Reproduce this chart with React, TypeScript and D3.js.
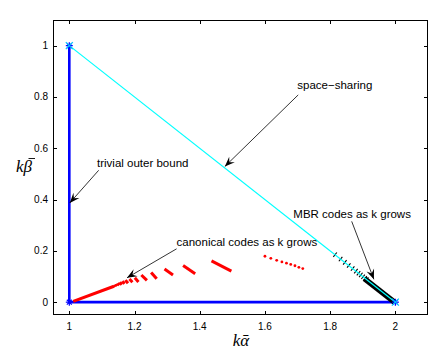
// Achievable region plot: outer bound, space-sharing line, canonical and MBR codes
import React from 'react';
import * as d3 from 'd3';

const WIDTH = 436;
const HEIGHT = 350;
const BOX = { left: 53, right: 428, top: 20, bottom: 315 };

const X_DOMAIN = [0.95, 2.1];
const Y_DOMAIN = [-0.05, 1.1];
const xTicks = [1, 1.2, 1.4, 1.6, 1.8, 2];
const yTicks = [0, 0.2, 0.4, 0.6, 0.8, 1];

// trivial outer bound (blue) and space-sharing line (cyan)
const boundX = [1, 1, 2];
const boundY = [1, 0, 0];
const shareX = [1, 2];
const shareY = [1, 0];

// canonical codes, one short run per k: [x0, y0, x1, y1]
const canonRuns = [
  [1.012, 0.003, 1.137, 0.062],
  [1.138, 0.068, 1.142, 0.060],
  [1.143, 0.071, 1.147, 0.063],
  [1.1485, 0.074, 1.1535, 0.066],
  [1.155, 0.078, 1.161, 0.068],
  [1.1625, 0.082, 1.1695, 0.072],
  [1.172, 0.086, 1.18, 0.074],
  [1.1845, 0.09, 1.1935, 0.078],
  [1.201, 0.095, 1.212, 0.079],
  [1.221, 0.106, 1.238, 0.085],
  [1.251, 0.116, 1.268, 0.091],
  [1.292, 0.129, 1.318, 0.106],
  [1.349, 0.143, 1.386, 0.111],
  [1.436, 0.161, 1.497, 0.121],
];
// sparse run (smallest k), drawn point by point
const canonDotX = [1.6, 1.618, 1.636, 1.652, 1.666, 1.679, 1.692, 1.704, 1.716];
const canonDotY = [0.179, 0.171, 0.163, 0.157, 0.152, 0.147, 0.142, 0.136, 0.131];

// MBR codes: points on the space-sharing line
const mbrX = [1.815, 1.832, 1.845, 1.857, 1.869, 1.879, 1.887, 1.894, 1.901, 1.907, 1.912];
const mbrY = [0.185, 0.168, 0.155, 0.143, 0.131, 0.121, 0.113, 0.106, 0.099, 0.093, 0.088];
const mbrDense = [1.905, 0.092, 1.997, 0.0];

// annotations
const noteLabels = ['space\u2212sharing', 'trivial outer bound', 'canonical codes as k grows', 'MBR codes as k grows'];
const noteTextX = [1.699, 1.085, 1.329, 1.687];
const noteTextY = [0.83, 0.526, 0.219, 0.328];
const noteTailX = [1.702, 1.09, 1.329, 1.866];
const noteTailY = [0.808, 0.514, 0.208, 0.315];
const noteTipX = [1.477, 1.0015, 1.177, 1.934];
const noteTipY = [0.529, 0.387, 0.095, 0.089];

const SANS = '"Liberation Sans", Arial, Helvetica, sans-serif';
const SERIF = '"Liberation Serif", "Times New Roman", serif';

function arrowHead(x0: number, y0: number, x1: number, y1: number) {
  const a = Math.atan2(y1 - y0, x1 - x0);
  const L = 10;
  const Wd = 4;
  const ux = Math.cos(a), uy = Math.sin(a);
  const px = -uy, py = ux;
  const p = (s: number, t: number) => `${x1 - ux * s + px * t},${y1 - uy * s + py * t}`;
  return `M${p(0, 0)}L${p(L, Wd)}L${p(L * 0.62, 0)}L${p(L, -Wd)}Z`;
}

export default function App() {
  const x = d3.scaleLinear().domain(X_DOMAIN).range([BOX.left, BOX.right]);
  const y = d3.scaleLinear().domain(Y_DOMAIN).range([BOX.bottom, BOX.top]);

  const line = d3.line<number>().x((_, i) => x(boundX[i])).y((_, i) => y(boundY[i]));
  const shareLine = d3.line<number>().x((_, i) => x(shareX[i])).y((_, i) => y(shareY[i]));

  const star = (cx: number, cy: number, color: string, key: string) => {
    const s = 3.5;
    return (
      <g key={key} stroke={color} strokeWidth={1.2}>
        <line x1={cx - s} y1={cy} x2={cx + s} y2={cy} />
        <line x1={cx} y1={cy - s} x2={cx} y2={cy + s} />
        <line x1={cx - s * 0.7} y1={cy - s * 0.7} x2={cx + s * 0.7} y2={cy + s * 0.7} />
        <line x1={cx - s * 0.7} y1={cy + s * 0.7} x2={cx + s * 0.7} y2={cy - s * 0.7} />
      </g>
    );
  };
  const cross = (cx: number, cy: number, color: string, key: string) => {
    const s = 3.5;
    return (
      <g key={key} stroke={color} strokeWidth={1.2}>
        <line x1={cx - s} y1={cy - s} x2={cx + s} y2={cy + s} />
        <line x1={cx - s} y1={cy + s} x2={cx + s} y2={cy - s} />
      </g>
    );
  };

  // perpendicular direction to the space-sharing line, in pixels
  const dxp = x(2) - x(1), dyp = y(0) - y(1);
  const len = Math.hypot(dxp, dyp);
  const nx = dyp / len, ny = -dxp / len;

  return (
    <svg width={WIDTH} height={HEIGHT} style={{ position: 'absolute', left: 0, top: 0, background: '#fff' }}>
      <rect x={0} y={0} width={WIDTH} height={HEIGHT} fill="#fff" />

      {/* outer bound */}
      <path d={line(boundX) || ''} fill="none" stroke="#0000ff" strokeWidth={2.6} />

      {/* canonical codes */}
      <g stroke="#ff0000" strokeWidth={3}>
        {canonRuns.map((r, i) => (
          <line key={i} x1={x(r[0])} y1={y(r[1])} x2={x(r[2])} y2={y(r[3])} />
        ))}
      </g>
      {canonDotX.map((v, i) => (
        <circle key={i} cx={x(v)} cy={y(canonDotY[i])} r={1.4} fill="#ff0000" />
      ))}

      {/* MBR codes */}
      <line x1={x(mbrDense[0])} y1={y(mbrDense[1])} x2={x(mbrDense[2])} y2={y(mbrDense[3])}
        stroke="#000" strokeWidth={5.5} />
      <g stroke="#000" strokeWidth={1.1}>
        {mbrX.map((v, i) => (
          <line key={i} x1={x(v) - nx * 2.8} y1={y(mbrY[i]) - ny * 2.8}
            x2={x(v) + nx * 2.8} y2={y(mbrY[i]) + ny * 2.8} />
        ))}
      </g>

      {/* space-sharing */}
      <path d={shareLine(shareX) || ''} fill="none" stroke="#00ffff" strokeWidth={1.2} />

      {boundX.map((v, i) => star(x(v), y(boundY[i]), '#0000ff', 's' + i))}
      {shareX.map((v, i) => cross(x(v), y(shareY[i]), '#00c8ff', 'c' + i))}

      {/* axes box and ticks */}
      <rect x={BOX.left + 0.5} y={BOX.top + 0.5} width={BOX.right - BOX.left - 1} height={BOX.bottom - BOX.top - 1}
        fill="none" stroke="#000" strokeWidth={1} />
      <g stroke="#000" strokeWidth={1}>
        {xTicks.map(t => (
          <g key={'xt' + t}>
            <line x1={Math.round(x(t)) + 0.5} x2={Math.round(x(t)) + 0.5} y1={BOX.bottom} y2={BOX.bottom - 4} />
            <line x1={Math.round(x(t)) + 0.5} x2={Math.round(x(t)) + 0.5} y1={BOX.top} y2={BOX.top + 4} />
          </g>
        ))}
        {yTicks.map(t => (
          <g key={'yt' + t}>
            <line y1={Math.round(y(t)) + 0.5} y2={Math.round(y(t)) + 0.5} x1={BOX.left} x2={BOX.left + 4} />
            <line y1={Math.round(y(t)) + 0.5} y2={Math.round(y(t)) + 0.5} x1={BOX.right} x2={BOX.right - 4} />
          </g>
        ))}
      </g>
      <g fontFamily={SANS} fontSize={10} fill="#000">
        {xTicks.map(t => (
          <text key={'xl' + t} x={x(t)} y={BOX.bottom + 15} textAnchor="middle">{String(t)}</text>
        ))}
        {yTicks.map(t => (
          <text key={'yl' + t} x={BOX.left - 5} y={y(t) + 3.5} textAnchor="end">{String(t)}</text>
        ))}
      </g>

      {/* axis labels */}
      <text x={241} y={346} textAnchor="middle" fontFamily={SERIF} fontStyle="italic" fontSize={17}>k{'\u1FB1'}</text>
      <text x={16} y={172} fontFamily={SERIF} fontStyle="italic" fontSize={17}>k{'\u03B2'}</text>
      <line x1={28.5} x2={35} y1={158.5} y2={158.5} stroke="#000" strokeWidth={0.9} />

      {/* annotations */}
      {noteLabels.map((lab, i) => {
        const x0 = x(noteTailX[i]), y0 = y(noteTailY[i]);
        const x1 = x(noteTipX[i]), y1 = y(noteTipY[i]);
        return (
          <g key={'n' + i}>
            <line x1={x0} y1={y0} x2={x1} y2={y1} stroke="#000" strokeWidth={0.8} />
            <path d={arrowHead(x0, y0, x1, y1)} fill="#000" />
            <text x={x(noteTextX[i])} y={y(noteTextY[i])} fontFamily={SANS} fontSize={11.5} fill="#000">{lab}</text>
          </g>
        );
      })}
    </svg>
  );
}
